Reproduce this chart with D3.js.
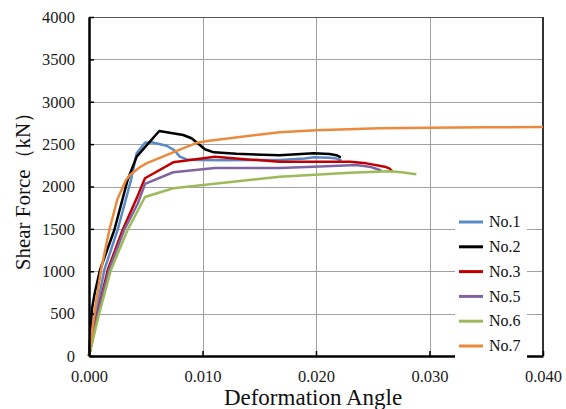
<!DOCTYPE html>
<html>
<head>
<meta charset="utf-8">
<script src="https://cdn.jsdelivr.net/npm/d3@7"></script>
<style>
  body { margin: 0; background: #fff; }
</style>
</head>
<body>
<div id="chart"></div>
<script>
"use strict";

var serif = "Liberation Serif, Times New Roman, serif";

// Values: [deformation angle, shear force kN]
var no1 = [[0, 0], [0.0003, 280], [0.00061, 507], [0.00135, 1015], [0.00252, 1487], [0.0037, 2076],
    [0.0042, 2392], [0.00493, 2517], [0.0055, 2522], [0.00684, 2481], [0.0075, 2430], [0.008, 2352],
    [0.0086, 2320], [0.0095, 2313], [0.012, 2310], [0.0168, 2313], [0.019, 2330], [0.0198, 2345],
    [0.0212, 2340], [0.0218, 2330], [0.02224, 2305]];
var no2 = [[0, 0], [0.00027, 562], [0.0005, 740], [0.00097, 1015], [0.00223, 1487], [0.0034, 2076],
    [0.0042, 2352], [0.00619, 2655], [0.0083, 2608], [0.00903, 2569], [0.00977, 2490], [0.0102, 2439],
    [0.011, 2403], [0.013, 2385], [0.0168, 2368], [0.0198, 2392], [0.0212, 2383], [0.0218, 2370],
    [0.0221, 2350], [0.0221, 2333]];
var no3 = [[0, 0], [0.00076, 507], [0.00165, 1015], [0.00296, 1487], [0.0042, 1860], [0.00493, 2097],
    [0.00742, 2285], [0.0111, 2352], [0.014, 2320], [0.0168, 2293], [0.023, 2293], [0.02444, 2273],
    [0.02606, 2234], [0.0265, 2210], [0.02673, 2175]];
var no5 = [[0, 0], [0.0008, 507], [0.00176, 1015], [0.0031, 1487], [0.0043, 1800], [0.00493, 2030],
    [0.00742, 2168], [0.0111, 2218], [0.0168, 2218], [0.0198, 2234], [0.02357, 2254], [0.0247, 2234],
    [0.0253, 2210], [0.02577, 2187]];
var no6 = [[0, 0], [0.00091, 507], [0.00193, 1015], [0.0034, 1487], [0.00493, 1876], [0.00742, 1979],
    [0.0168, 2116], [0.023, 2163], [0.0265, 2180], [0.0275, 2168], [0.02884, 2144]];
var no7 = [[0, 0], [0.00047, 507], [0.00106, 1015], [0.00179, 1487], [0.0025, 1850], [0.00326, 2076],
    [0.00361, 2136], [0.0045, 2230], [0.0051, 2275], [0.0065, 2352], [0.008, 2435], [0.0095, 2515],
    [0.0106, 2540], [0.0168, 2640], [0.02, 2665], [0.0256, 2687], [0.03, 2694], [0.035, 2699], [0.04, 2702]];

var seriesNames = ["No.1", "No.2", "No.3", "No.5", "No.6", "No.7"];
var seriesData = [no1, no2, no3, no5, no6, no7];
var seriesColors = ["#5a8ac6", "#000000", "#c00000", "#8064a2", "#9bbb59", "#eb8a3c"];

var xTicks = [0, 0.01, 0.02, 0.03, 0.04];
var yTicks = [0, 500, 1000, 1500, 2000, 2500, 3000, 3500, 4000];

var margin = {top: 17, right: 23, bottom: 53, left: 89},
    width = 566 - margin.left - margin.right,
    height = 409 - margin.top - margin.bottom;

var svg = d3.select("#chart").append("svg")
    .attr("width", 566)
    .attr("height", 409)
    .attr("font-family", serif);

var g = svg.append("g")
    .attr("transform", "translate(" + margin.left + "," + margin.top + ")");

var xScale = d3.scaleLinear().domain([0, 0.04]).range([0, width]);
var yScale = d3.scaleLinear().domain([0, 4000]).range([height, 0]);

// Grid lines
var grid = g.append("g").attr("class", "grid");
grid.selectAll("line.h")
    .data(yTicks.slice(1, -1))
    .enter().append("line")
    .attr("class", "h")
    .attr("x1", 0).attr("x2", width)
    .attr("y1", function(d) { return Math.round(yScale(d)) + 0.5; })
    .attr("y2", function(d) { return Math.round(yScale(d)) + 0.5; })
    .style("stroke", "#a0a0a0");
grid.selectAll("line.v")
    .data(xTicks.slice(1, -1))
    .enter().append("line")
    .attr("class", "v")
    .attr("y1", 0).attr("y2", height)
    .attr("x1", function(d) { return Math.round(xScale(d)) + 0.5; })
    .attr("x2", function(d) { return Math.round(xScale(d)) + 0.5; })
    .style("stroke", "#a0a0a0");

// Top and right border
g.append("line").attr("x1", 0).attr("x2", width).attr("y1", 0.5).attr("y2", 0.5)
    .style("stroke", "#555").style("stroke-width", 1);
g.append("line").attr("x1", width).attr("x2", width).attr("y1", 0).attr("y2", height)
    .style("stroke", "#333").style("stroke-width", 2);

// Series
var line = d3.line()
    .x(function(d) { return xScale(d[0]); })
    .y(function(d) { return yScale(d[1]); });

g.append("g").attr("class", "charts")
    .selectAll("path")
    .data(seriesData)
    .enter().append("path")
    .attr("d", line)
    .style("fill", "none")
    .style("stroke", function(d, i) { return seriesColors[i]; })
    .style("stroke-width", 2.5)
    .style("stroke-linejoin", "round");

// Axes
var xAxis = d3.axisBottom(xScale)
    .tickValues(xTicks)
    .tickFormat(d3.format(".3f"))
    .tickSizeInner(-5).tickSizeOuter(0).tickPadding(14);
var yAxis = d3.axisLeft(yScale)
    .tickValues(yTicks)
    .tickFormat(d3.format("d"))
    .tickSizeInner(-5).tickSizeOuter(0).tickPadding(14);

var gx = g.append("g").attr("class", "x axis")
    .attr("transform", "translate(0," + height + ")")
    .call(xAxis);
var gy = g.append("g").attr("class", "y axis")
    .call(yAxis);

[gx, gy].forEach(function(ax) {
    ax.attr("font-family", serif).attr("font-size", 16.5);
    ax.select(".domain").style("stroke", "#000").style("stroke-width", 2.5);
    ax.selectAll(".tick line").style("stroke", "#000").style("stroke-width", 1.5);
    ax.selectAll(".tick text").attr("fill", "#1a1a1a");
});

// Axis titles
svg.append("text")
    .attr("x", margin.left + width / 2 - 3)
    .attr("y", 405)
    .attr("text-anchor", "middle")
    .attr("font-size", 23)
    .attr("fill", "#111")
    .text("Deformation Angle");

svg.append("text")
    .attr("transform", "translate(30,186) rotate(-90)")
    .attr("text-anchor", "middle")
    .attr("font-size", 21)
    .attr("fill", "#111")
    .text("Shear Force\uFF08kN\uFF09");

// Legend
var legend = svg.append("g").attr("class", "legend");
legend.append("rect")
    .attr("x", 455).attr("y", 206)
    .attr("width", 72).attr("height", 161)
    .style("fill", "#fff");

var items = legend.selectAll("g.item")
    .data(seriesNames)
    .enter().append("g")
    .attr("class", "item")
    .attr("transform", function(d, i) { return "translate(0," + (222 + i * 24.8) + ")"; });
items.append("line")
    .attr("x1", 459).attr("x2", 483)
    .style("stroke", function(d, i) { return seriesColors[i]; })
    .style("stroke-width", 3);
items.append("text")
    .attr("x", 489).attr("dy", "0.33em")
    .attr("font-size", 16)
    .attr("fill", "#111")
    .text(function(d) { return d; });
</script>
</body>
</html>
